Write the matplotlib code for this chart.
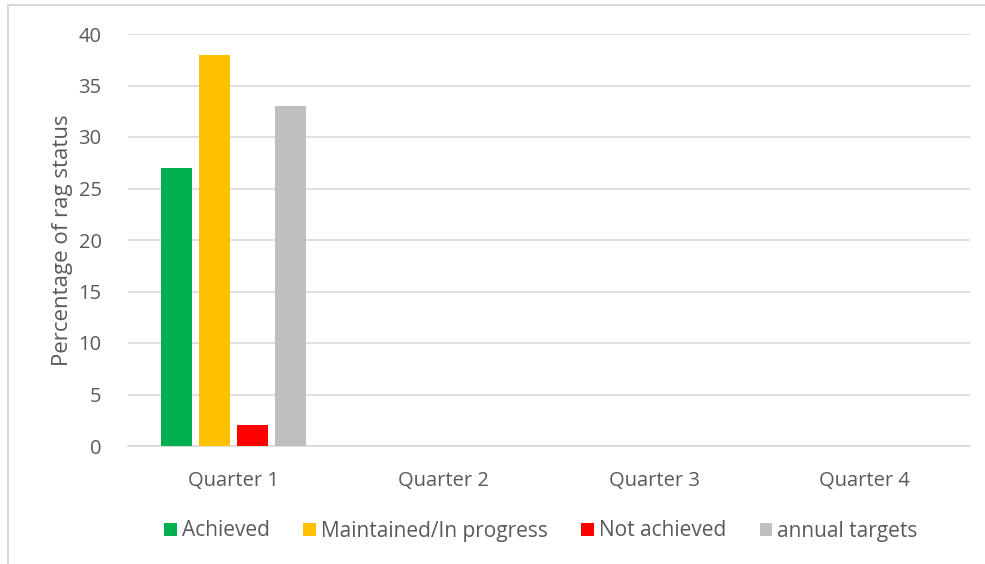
import matplotlib
matplotlib.use("Agg")
import matplotlib.pyplot as plt
import numpy as np
from matplotlib.patches import Rectangle

categories = ["Quarter 1", "Quarter 2", "Quarter 3", "Quarter 4"]
series_names = ["Achieved", "Maintained/In progress", "Not achieved", "annual targets"]
achieved = [27, 0, 0, 0]
maintained = [38, 0, 0, 0]
not_achieved = [2, 0, 0, 0]
annual_targets = [33, 0, 0, 0]
colors = ["#00B050", "#FFC000", "#FF0000", "#BFBFBF"]
yticks = [0, 5, 10, 15, 20, 25, 30, 35, 40]

plt.rcParams['font.family'] = ['Open Sans', 'DejaVu Sans']
txt = "#595959"

fig = plt.figure(figsize=(9.85, 5.64), dpi=100)
ax = fig.add_axes([128/985, 1-446/564, (970-128)/985, (446-34)/564])

x = np.arange(len(categories))
step = 0.18
width = 0.147
data = [achieved, maintained, not_achieved, annual_targets]
for i, (vals, c, n) in enumerate(zip(data, colors, series_names)):
    ax.bar(x + (i - 1.5) * step, vals, width=width, color=c, label=n, zorder=3)

ax.set_xlim(-0.5, 3.5)
ax.set_ylim(0, 40)
ax.set_yticks(yticks)
ax.yaxis.grid(True, color="#D9D9D9", linewidth=1.2, zorder=0)
ax.set_axisbelow(True)
for s in ["top", "right", "left"]:
    ax.spines[s].set_visible(False)
ax.spines["bottom"].set_color("#D9D9D9")
ax.spines["bottom"].set_linewidth(1.2)
ax.tick_params(axis="both", length=0, labelsize=14.5, colors=txt)
ax.tick_params(axis="y", pad=19)
ax.tick_params(axis="x", pad=18)
ax.set_xticks(x)
ax.set_xticklabels(categories)
ax.set_ylabel("Percentage of rag status", fontsize=16, color=txt, labelpad=4)

leg = fig.legend(loc="center", bbox_to_anchor=(541/985, 1-531/564), ncol=4, frameon=False,
                 fontsize=15, handlelength=0.6, handleheight=0.6, handletextpad=0.25,
                 columnspacing=1.6, labelcolor=txt)

fig.patches.append(Rectangle((8/985, -0.1), 1.1, 1.1 - 5/564, transform=fig.transFigure,
                             fill=False, edgecolor="#D9D9D9", linewidth=1.5))

fig.savefig("out.png", dpi=100)
